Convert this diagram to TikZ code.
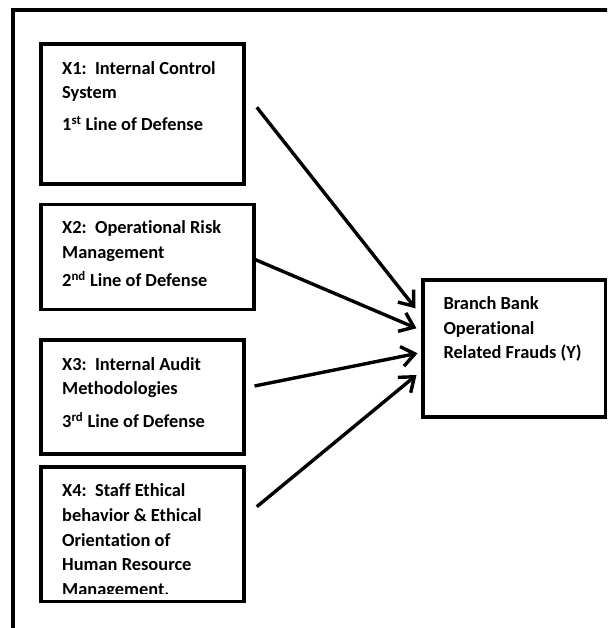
\documentclass[tikz,border=0pt]{standalone}
\usepackage{fontspec}
\setmainfont[Ligatures={NoCommon}]{Carlito}
\usetikzlibrary{arrows.meta,calc}
\begin{document}
\begin{tikzpicture}[x=1pt,y=-1pt,
  frame/.style={line width=4pt, line join=miter},
  box/.style={draw, line width=3.6pt, fill=white, inner sep=0pt},
  txt/.style={anchor=north west, inner sep=0pt, align=left,
    font=\fontsize{18.4}{24.6}\selectfont\bfseries},
  arr/.style={line width=3.4pt, -{Straight Barb[length=13pt,width=20pt,line width=3.4pt]}}]
\useasboundingbox (0,0) rectangle (607,628);
\clip (0,0) rectangle (607,628);
% outer frame
\coordinate (fb) at (13,640);
\coordinate (fc) at (13,10.5);
\coordinate (fr) at (620,10.5);
\draw[frame] (fb) -- (fc) -- (fr);
% boxes
\node[box, minimum width=203pt, minimum height=140pt] (x1) at (142.5,114) {};
\node[box, minimum width=213pt, minimum height=105pt] (x2) at (147.5,257) {};
\node[box, minimum width=203pt, minimum height=114.3pt] (x3) at (142.5,396.85) {};
\node[box, minimum width=203pt, minimum height=134.5pt] (x4) at (142.5,534.25) {};
\node[box, minimum width=182.5pt, minimum height=137pt] (y) at (514.25,348.5) {};
% texts (first baseline = position + 17.22)
\node[txt] (t1) at (62,56.8) {\strut X1:~~Internal Control\\System\\[7pt]1\textsuperscript{st} Line of Defense};
\node[txt] (t2) at (62,216.1) {\strut X2:~~Operational Risk\\Management\\[4pt]2\textsuperscript{nd} Line of Defense};
\node[txt] (t3) at (62,352.8) {\strut X3:~~Internal Audit\\Methodologies\\[8pt]3\textsuperscript{rd} Line of Defense};
\begin{scope}
\clip ($(x4.north west)+(0,2)$) rectangle ($(x4.south east)+(0,-10)$);
\node[txt] (t4) at (62,479.5) {\strut X4:~~Staff Ethical\\behavior \& Ethical\\Orientation of\\Human Resource\\Management.};
\end{scope}
\node[txt] (ty) at (443.3,292.1) {\strut Branch Bank\\Operational\\Related Frauds (Y)};
% arrows
\draw[arr] ($(x1.east)+(11,-6.7)$) -- ($(y.west)+(-5.7,-40.2)$);
\draw[arr] ($(x2.east)+(-1.3,2.3)$) -- ($(y.west)+(-4.7,-20.2)$);
\draw[arr] ($(x3.east)+(8.7,-10.85)$) -- ($(y.west)+(-3.7,4.8)$);
\draw[arr] ($(x4.east)+(11,-27.55)$) -- ($(y.west)+(-4.7,26.5)$);
\end{tikzpicture}
\end{document}
